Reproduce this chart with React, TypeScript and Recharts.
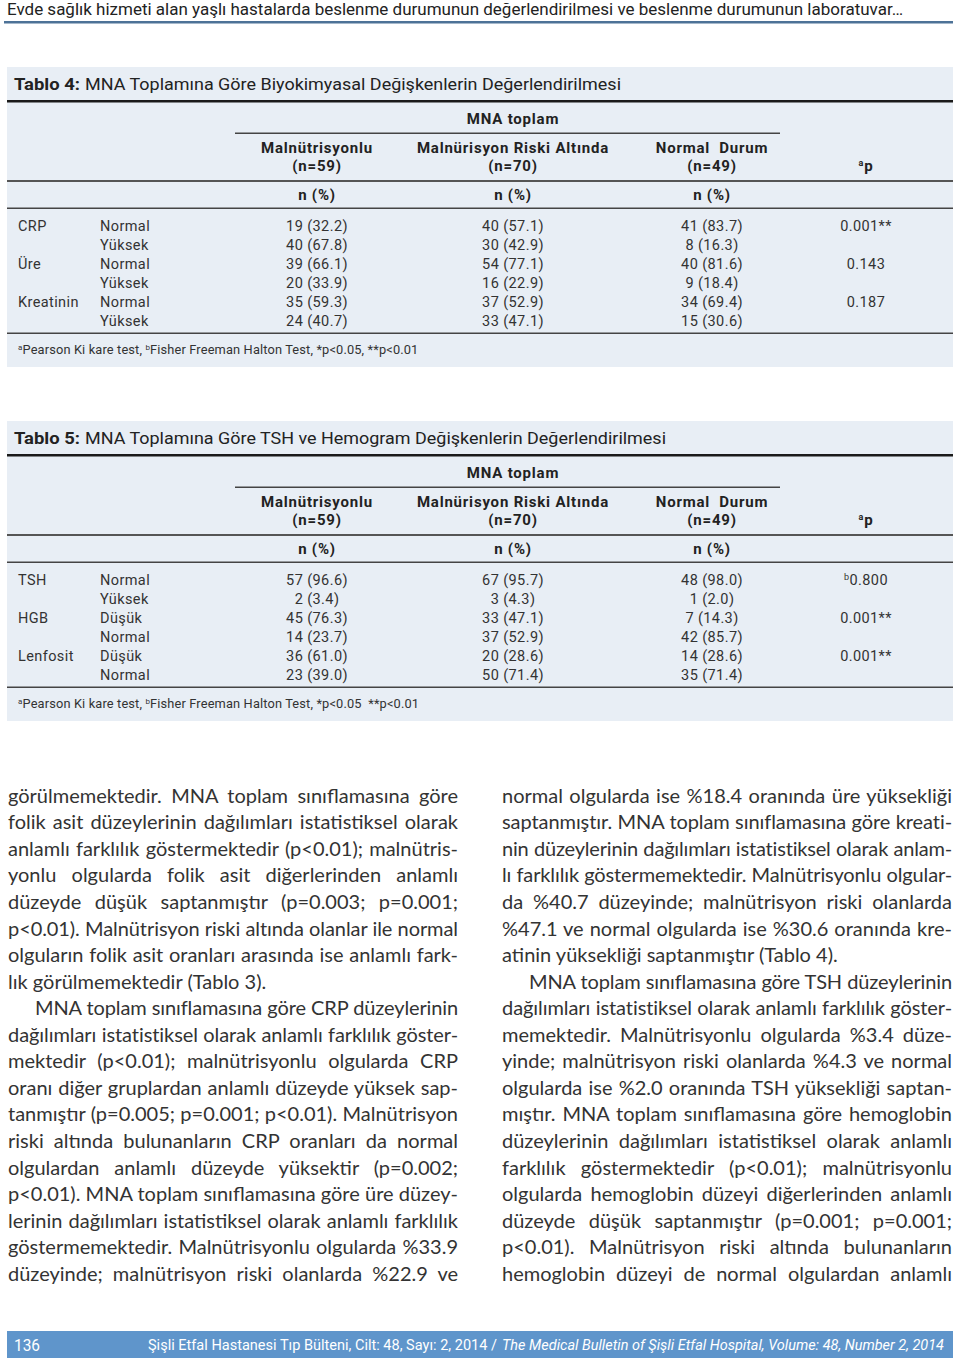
import React, { useLayoutEffect, useRef, useState } from "react";
import { ScatterChart, Scatter, XAxis, YAxis } from "recharts";

const runningHead =
  "Evde sağlık hizmeti alan yaşlı hastalarda beslenme durumunun değerlendirilmesi ve beslenme durumunun laboratuvar…";

const mnaGroups = ["Malnütrisyonlu", "Malnürisyon Riski Altında", "Normal  Durum"];
const groupSizes = [59, 70, 49];

// Tablo 4
const t4Variables = ["CRP", "", "Üre", "", "Kreatinin", ""];
const t4Levels = ["Normal", "Yüksek", "Normal", "Yüksek", "Normal", "Yüksek"];
const t4MalnN = [19, 40, 39, 20, 35, 24];
const t4MalnPct = [32.2, 67.8, 66.1, 33.9, 59.3, 40.7];
const t4RiskN = [40, 30, 54, 16, 37, 33];
const t4RiskPct = [57.1, 42.9, 77.1, 22.9, 52.9, 47.1];
const t4NormN = [41, 8, 40, 9, 34, 15];
const t4NormPct = [83.7, 16.3, 81.6, 18.4, 69.4, 30.6];
const t4P = ["0.001**", "", "0.143", "", "0.187", ""];
const t4PSup = ["", "", "", "", "", ""];

// Tablo 5
const t5Variables = ["TSH", "", "HGB", "", "Lenfosit", ""];
const t5Levels = ["Normal", "Yüksek", "Düşük", "Normal", "Düşük", "Normal"];
const t5MalnN = [57, 2, 45, 14, 36, 23];
const t5MalnPct = [96.6, 3.4, 76.3, 23.7, 61.0, 39.0];
const t5RiskN = [67, 3, 33, 37, 20, 50];
const t5RiskPct = [95.7, 4.3, 47.1, 52.9, 28.6, 71.4];
const t5NormN = [48, 1, 7, 42, 14, 35];
const t5NormPct = [98.0, 2.0, 14.3, 85.7, 28.6, 71.4];
const t5P = ["0.800", "", "0.001**", "", "0.001**", ""];
const t5PSup = ["b", "", "", "", "", ""];

const leftColumn = [
  "görülmemektedir. MNA toplam sınıflamasına göre",
  "folik asit düzeylerinin dağılımları istatistiksel olarak",
  "anlamlı farklılık göstermektedir (p<0.01); malnütris-",
  "yonlu olgularda folik asit diğerlerinden anlamlı",
  "düzeyde düşük saptanmıştır (p=0.003; p=0.001;",
  "p<0.01). Malnütrisyon riski altında olanlar ile normal",
  "olguların folik asit oranları arasında ise anlamlı fark-",
  "lık görülmemektedir (Tablo 3).",
  "MNA toplam sınıflamasına göre CRP düzeylerinin",
  "dağılımları istatistiksel olarak anlamlı farklılık göster-",
  "mektedir (p<0.01); malnütrisyonlu olgularda CRP",
  "oranı diğer gruplardan anlamlı düzeyde yüksek sap-",
  "tanmıştır (p=0.005; p=0.001; p<0.01). Malnütrisyon",
  "riski altında bulunanların CRP oranları da normal",
  "olgulardan anlamlı düzeyde yüksektir (p=0.002;",
  "p<0.01). MNA toplam sınıflamasına göre üre düzey-",
  "lerinin dağılımları istatistiksel olarak anlamlı farklılık",
  "göstermemektedir. Malnütrisyonlu olgularda %33.9",
  "düzeyinde; malnütrisyon riski olanlarda %22.9 ve",
];
const leftLast = [7];
const leftIndent = [8];

const rightColumn = [
  "normal olgularda ise %18.4 oranında üre yüksekliği",
  "saptanmıştır. MNA toplam sınıflamasına göre kreati-",
  "nin düzeylerinin dağılımları istatistiksel olarak anlam-",
  "lı farklılık göstermemektedir. Malnütrisyonlu olgular-",
  "da %40.7 düzeyinde; malnütrisyon riski olanlarda",
  "%47.1 ve normal olgularda ise %30.6 oranında kre-",
  "atinin yüksekliği saptanmıştır (Tablo 4).",
  "MNA toplam sınıflamasına göre TSH düzeylerinin",
  "dağılımları istatistiksel olarak anlamlı farklılık göster-",
  "memektedir. Malnütrisyonlu olgularda %3.4 düze-",
  "yinde; malnütrisyon riski olanlarda %4.3 ve normal",
  "olgularda ise %2.0 oranında TSH yüksekliği saptan-",
  "mıştır. MNA toplam sınıflamasına göre hemoglobin",
  "düzeylerinin dağılımları istatistiksel olarak anlamlı",
  "farklılık göstermektedir (p<0.01); malnütrisyonlu",
  "olgularda hemoglobin düzeyi diğerlerinden anlamlı",
  "düzeyde düşük saptanmıştır (p=0.001; p=0.001;",
  "p<0.01). Malnütrisyon riski altında bulunanların",
  "hemoglobin düzeyi de normal olgulardan anlamlı",
];
const rightLast = [6];
const rightIndent = [7];

const TABLE_FONT = "Roboto, 'Open Sans', sans-serif";
const INK = "#333";
const BOX_W = 946;
const colX = { variable: 11, level: 93, maln: 310, risk: 506, norm: 705, p: 859 };

const fmt = (n: number, pct: number) => `${n} (${pct.toFixed(1)})`;

type Cell = { row: string; x: number; text: string; anchor: string; sup?: string };

function buildCells(
  variables: string[], levels: string[],
  mN: number[], mP: number[], rN: number[], rP: number[], nN: number[], nP: number[],
  p: string[], pSup: string[]
): Cell[] {
  const cells: Cell[] = [];
  levels.forEach((lv, i) => {
    const row = `r${i}`;
    if (variables[i]) cells.push({ row, x: colX.variable, text: variables[i], anchor: "start" });
    cells.push({ row, x: colX.level, text: lv, anchor: "start" });
    cells.push({ row, x: colX.maln, text: fmt(mN[i], mP[i]), anchor: "middle" });
    cells.push({ row, x: colX.risk, text: fmt(rN[i], rP[i]), anchor: "middle" });
    cells.push({ row, x: colX.norm, text: fmt(nN[i], nP[i]), anchor: "middle" });
    if (p[i]) cells.push({ row, x: colX.p, text: p[i], anchor: "middle", sup: pSup[i] });
  });
  return cells;
}

const renderCell = (props: any) => {
  const { cx, cy, payload } = props;
  return (
    <text x={cx} y={cy + 5} textAnchor={payload.anchor} fontFamily={TABLE_FONT} fontSize={14.5}
      letterSpacing={0.4} fill={INK}>
      {payload.sup ? (
        <>
          <tspan fontSize={9} dy={-5}>{payload.sup}</tspan>
          <tspan dy={5}>{payload.text}</tspan>
        </>
      ) : (
        payload.text
      )}
    </text>
  );
};

interface TableProps {
  top: number;
  label: string;
  title: string;
  titleWidth: number;
  cells: Cell[];
  note: string;
}

const headStyle = { fontFamily: TABLE_FONT, fontSize: 15, fontWeight: 700, letterSpacing: 0.8, fill: "#222" };

const StatTable: React.FC<TableProps> = ({ top, label, title, titleWidth, cells, note }) => {
  const colCenters = [colX.maln, colX.risk, colX.norm];
  return (
    <div style={{ position: "absolute", left: 7, top, width: BOX_W, height: 300, background: "#e8eef5" }}>
      <svg width={BOX_W} height={300} style={{ position: "absolute", left: 0, top: 0 }}>
        <text x={7} y={23} fontFamily={TABLE_FONT} fontSize={17} fontWeight={700} fill="#222"
          textLength={66} lengthAdjust="spacingAndGlyphs">{label}</text>
        <text x={78} y={23} fontFamily={TABLE_FONT} fontSize={17} fill="#222"
          textLength={titleWidth} lengthAdjust="spacingAndGlyphs">{title}</text>
        <rect x={0} y={33} width={BOX_W} height={2.5} fill="#1a1a1a" />
        <text x={506} y={57} textAnchor="middle" {...headStyle}>MNA toplam</text>
        <rect x={228} y={65.5} width={545} height={1.5} fill="#444" />
        {mnaGroups.map((g, i) => (
          <g key={g}>
            <text x={colCenters[i]} y={86} textAnchor="middle" {...headStyle} style={{ whiteSpace: "pre" }}>{g}</text>
            <text x={colCenters[i]} y={104} textAnchor="middle" {...headStyle}>{`(n=${groupSizes[i]})`}</text>
            <text x={colCenters[i]} y={133} textAnchor="middle" {...headStyle}>n (%)</text>
          </g>
        ))}
        <text x={colX.p} y={104} textAnchor="middle" {...headStyle}>
          <tspan fontSize={9} dy={-5}>a</tspan>
          <tspan dy={5}>p</tspan>
        </text>
        <rect x={0} y={113} width={BOX_W} height={2} fill="#555" />
        <rect x={0} y={140.5} width={BOX_W} height={1.5} fill="#444" />
        <rect x={0} y={265.5} width={BOX_W} height={1.5} fill="#444" />
        <text x={11} y={287} fontFamily={TABLE_FONT} fontSize={12.8} letterSpacing={0.15} fill={INK}>
          <tspan fontSize={8} dy={-4}>a</tspan>
          <tspan dy={4}>Pearson Ki kare test, </tspan>
          <tspan fontSize={8} dy={-4}>b</tspan>
          <tspan dy={4} style={{ whiteSpace: "pre" }}>{note}</tspan>
        </text>
      </svg>
      <div style={{ position: "absolute", left: 0, top: 149 }}>
        <ScatterChart width={BOX_W} height={114} margin={{ top: 0, right: 0, bottom: 0, left: 0 }}>
          <XAxis type="number" dataKey="x" domain={[0, BOX_W]} hide />
          <YAxis type="category" dataKey="row" hide reversed allowDuplicatedCategory={false} />
          <Scatter data={cells} isAnimationActive={false} shape={renderCell} />
        </ScatterChart>
      </div>
    </div>
  );
};

const LINE_H = 26.56;
const BODY_TOP = 795 - LINE_H / 2;

// one typeset line; squeezes letter spacing if the natural width is too wide
const BodyLine: React.FC<{ left: number; top: number; width: number; text: string; justify: boolean }> = ({ left, top, width, text, justify }) => {
  const ref = useRef<HTMLSpanElement>(null);
  const [spacing, setSpacing] = useState(0);
  useLayoutEffect(() => {
    const el = ref.current;
    if (!el) return;
    const w = el.getBoundingClientRect().width;
    if (w > width) setSpacing(-(w - width + 1) / text.length);
  }, [text, width]);
  return (
    <div
      style={{
        position: "absolute",
        left,
        top,
        width,
        height: LINE_H,
        lineHeight: `${LINE_H}px`,
        fontFamily: "Lato, 'Open Sans', sans-serif",
        fontSize: 20,
        color: "#333",
        whiteSpace: "nowrap",
        letterSpacing: spacing,
        textAlign: justify ? "justify" : "left",
        textAlignLast: justify ? "justify" : "left",
      }}
    >
      {spacing === 0 ? <span ref={ref} style={{ position: "absolute", visibility: "hidden" }}>{text}</span> : null}
      {text}
    </div>
  );
};

const TextColumn: React.FC<{ left: number; lines: string[]; last: number[]; indent: number[] }> = ({ left, lines, last, indent }) => (
  <>
    {lines.map((ln, i) => {
      const ind = indent.includes(i) ? 27 : 0;
      return (
        <BodyLine key={i} left={left + ind} top={BODY_TOP + i * LINE_H} width={450 - ind} text={ln} justify={!last.includes(i)} />
      );
    })}
  </>
);

export default function App() {
  const t4Cells = buildCells(t4Variables, t4Levels, t4MalnN, t4MalnPct, t4RiskN, t4RiskPct, t4NormN, t4NormPct, t4P, t4PSup);
  const t5Cells = buildCells(t5Variables, t5Levels, t5MalnN, t5MalnPct, t5RiskN, t5RiskPct, t5NormN, t5NormPct, t5P, t5PSup);
  return (
    <div style={{ position: "absolute", left: 0, top: 0, width: 960, height: 1362, background: "#fff", overflow: "hidden" }}>
      <svg width={960} height={30} style={{ position: "absolute", left: 0, top: 0 }}>
        <text x={7} y={15} fontFamily={TABLE_FONT} fontSize={16} fill="#222" textLength={896} lengthAdjust="spacingAndGlyphs">
          {runningHead}
        </text>
        <rect x={4} y={21} width={949} height={2.5} fill="#4d7297" />
      </svg>

      <StatTable
        top={67}
        label="Tablo 4:"
        title="MNA Toplamına Göre Biyokimyasal Değişkenlerin Değerlendirilmesi"
        titleWidth={536}
        cells={t4Cells}
        note="Fisher Freeman Halton Test, *p<0.05, **p<0.01"
      />
      <StatTable
        top={421}
        label="Tablo 5:"
        title="MNA Toplamına Göre TSH ve Hemogram Değişkenlerin Değerlendirilmesi"
        titleWidth={581}
        cells={t5Cells}
        note="Fisher Freeman Halton Test, *p<0.05  **p<0.01"
      />

      <TextColumn left={8} lines={leftColumn} last={leftLast} indent={leftIndent} />
      <TextColumn left={502} lines={rightColumn} last={rightLast} indent={rightIndent} />

      <div style={{ position: "absolute", left: 7, top: 1331, width: 946, height: 27, background: "#5f95cb" }}>
        <svg width={946} height={27} style={{ position: "absolute", left: 0, top: 0 }}>
          <text x={7} y={20} fontFamily={TABLE_FONT} fontSize={17} fill="#fff" textLength={26} lengthAdjust="spacingAndGlyphs">136</text>
          <text x={141} y={19} fontFamily={TABLE_FONT} fontSize={14} fill="#fff" textLength={349} lengthAdjust="spacingAndGlyphs">
            Şişli Etfal Hastanesi Tıp Bülteni, Cilt: 48, Sayı: 2, 2014 /
          </text>
          <text x={495} y={19} fontFamily={TABLE_FONT} fontSize={14} fontStyle="italic" fill="#fff" textLength={442} lengthAdjust="spacingAndGlyphs">
            The Medical Bulletin of Şişli Etfal Hospital, Volume: 48, Number 2, 2014
          </text>
        </svg>
      </div>
    </div>
  );
}
